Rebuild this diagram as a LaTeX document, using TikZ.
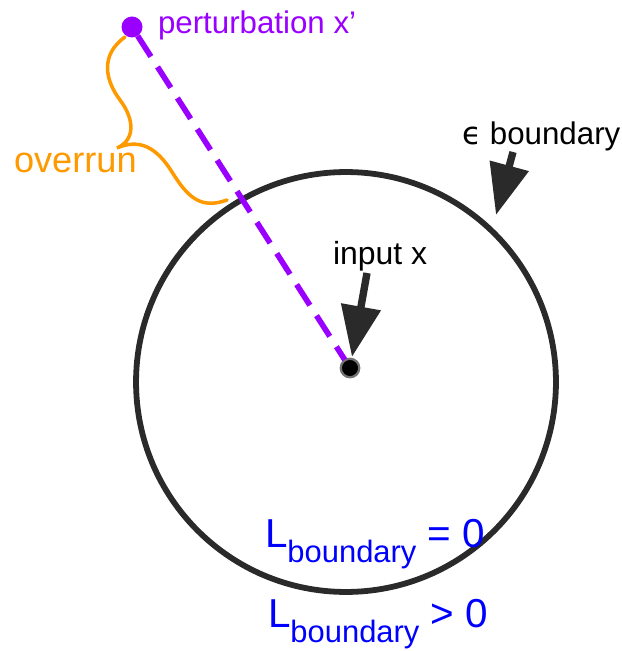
\documentclass[tikz,border=0pt]{standalone}
\usepackage{fontspec}
\setmainfont{Liberation Sans}
\newfontfamily\dejavu{DejaVu Sans}
\usetikzlibrary{arrows.meta, calc}
\definecolor{advpurple}{HTML}{9900FF}
\definecolor{runorange}{HTML}{FF9900}
\definecolor{lossblue}{HTML}{0000FF}
\definecolor{inkdark}{HTML}{2A2A2A}
\newcommand{\lossbd}[1]{L\raisebox{-9pt}{\fontsize{17.6}{20}\selectfont boundary} #1}

\begin{document}
\begin{tikzpicture}[x=0.02cm, y=-0.02cm,
    every node/.style={inner sep=0pt, outer sep=0pt},
    pointer/.style={draw=inkdark, line width=4.2pt, -{Triangle[width=22pt, length=29pt]}},
    label/.style={anchor=base west, font=\fontsize{17.8}{21}\selectfont},
    losslabel/.style={anchor=base west, text=lossblue, font=\fontsize{23}{27}\selectfont}
]
    \useasboundingbox (0,0) rectangle (621,651);
    % epsilon ball
    \node[circle, draw=inkdark, line width=3.3pt, minimum size=8.4cm] (ring) at (346,382) {};
    % points
    \node[circle, fill=black, draw=black!55, line width=1pt, minimum size=0.38cm] (inp) at (350,368) {};
    \node[circle, fill=advpurple, minimum size=0.42cm] (pert) at (132,27) {};
    \draw[advpurple, line width=3.2pt, dash pattern=on 14pt off 7pt] (pert) -- (inp);
    \draw[fill=black, draw=black!55, line width=1pt] (inp) circle (0.18cm);
    % labels
    \node[label, text=advpurple] (pertlab) at (158,34) {perturbation x’};
    \node[label] (epslab) at (462,145) {{\dejavu ϵ} boundary};
    \node[label, font=\fontsize{18.2}{21}\selectfont] (inlab) at (333,265) {input x};
    \node[label, text=runorange, font=\fontsize{20.6}{24}\selectfont] (runlab) at (14,173) {overrun};
    \node[losslabel] (lzero) at (265,547) {\lossbd{= 0}};
    \node[losslabel] (lpos) at (268,627) {\lossbd{> 0}};
    % pointers
    \coordinate (epstail) at (513,152);
    \coordinate (epstip) at (496,215);
    \coordinate (intail) at (367,273);
    \draw[pointer] (epstail) -- (epstip);
    \draw[pointer, shorten >=1pt] (intail) -- (inp);
    % overrun brace
    \draw[runorange, line width=2pt, line cap=round]
        (125,37) .. controls (100,55) and (105,80) .. (120,100)
        .. controls (135,120) and (135,140) .. (117,148)
        .. controls (140,138) and (157,148) .. (172,172)
        .. controls (187,196) and (200,210) .. (227,200);
\end{tikzpicture}
\end{document}
